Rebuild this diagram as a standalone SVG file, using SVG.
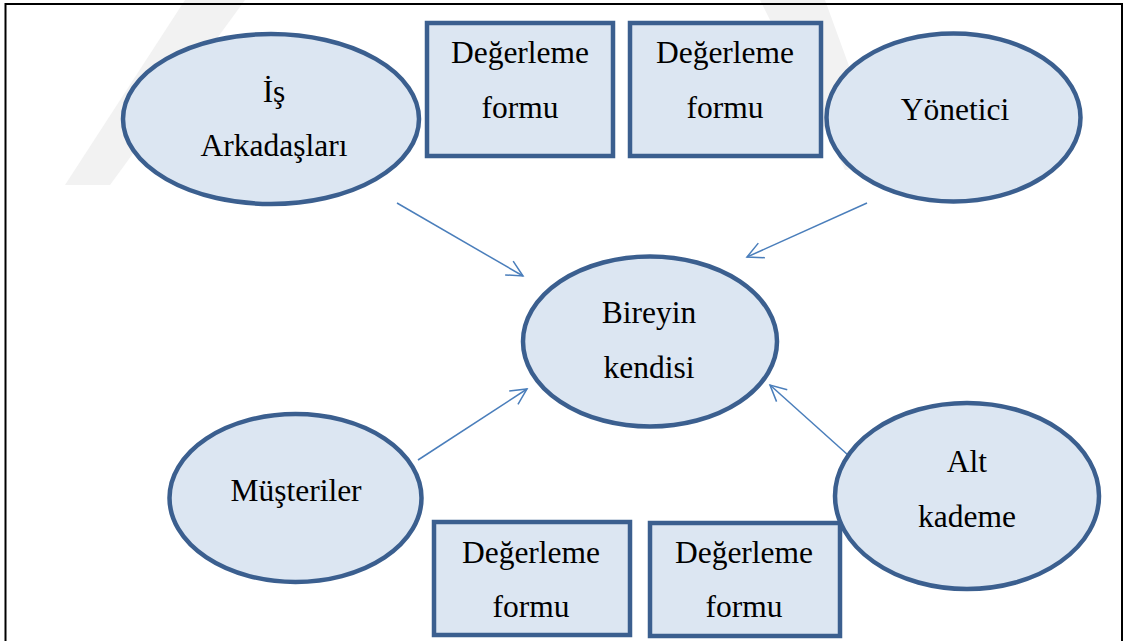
<svg xmlns="http://www.w3.org/2000/svg" width="1129" height="641" viewBox="0 0 1129 641">
<style>
.shape{fill:#dce6f2;stroke:#3b5f8f;stroke-width:4.5}
.lbl{font-family:"Liberation Serif","Times New Roman",serif;font-size:31.5px;fill:#000;text-anchor:middle}
.conn{stroke:#4a7ebb;stroke-width:1.5;fill:none}
.wm{fill:#f2f2f2}
</style>
<defs>
<marker id="arr" viewBox="0 0 20 20" refX="18" refY="10" markerWidth="20" markerHeight="20" markerUnits="userSpaceOnUse" orient="auto">
<path d="M2,2 L18,10 L2,18" fill="none" stroke="#4a7ebb" stroke-width="1.5"/>
</marker>
</defs>
<rect width="1129" height="641" fill="#fff"/>
<g id="watermark">
<polygon class="wm" points="65,185 110,185 245,0 185,0"/>
<polygon class="wm" points="760,0 825,0 885,165 845,170"/>
</g>
<path d="M5.5,641 V4 H1122 V641" fill="none" stroke="#000" stroke-width="2"/>
<g id="connectors">
<line class="conn" x1="397" y1="203" x2="523" y2="276" marker-end="url(#arr)"/>
<line class="conn" x1="867" y1="203" x2="747" y2="257" marker-end="url(#arr)"/>
<line class="conn" x1="418" y1="460" x2="527" y2="389" marker-end="url(#arr)"/>
<line class="conn" x1="848" y1="455" x2="770" y2="385" marker-end="url(#arr)"/>
</g>
<g id="is-arkadaslari">
<ellipse class="shape" cx="271" cy="119" rx="148" ry="85"/>
<text class="lbl" x="274" y="102">İş</text>
<text class="lbl" x="274" y="156">Arkadaşları</text>
</g>
<g id="form1">
<rect class="shape" x="427" y="23" width="186" height="133"/>
<text class="lbl" x="520" y="63">Değerleme</text>
<text class="lbl" x="520" y="118">formu</text>
</g>
<g id="form2">
<rect class="shape" x="630" y="23" width="191" height="133"/>
<text class="lbl" x="725" y="63">Değerleme</text>
<text class="lbl" x="725" y="118">formu</text>
</g>
<g id="yonetici">
<ellipse class="shape" cx="953.5" cy="117.5" rx="127" ry="84"/>
<text class="lbl" x="955" y="120">Yönetici</text>
</g>
<g id="bireyin-kendisi">
<ellipse class="shape" cx="650" cy="341.5" rx="127" ry="85"/>
<text class="lbl" x="649" y="323">Bireyin</text>
<text class="lbl" x="649" y="378">kendisi</text>
</g>
<g id="musteriler">
<ellipse class="shape" cx="295.5" cy="498" rx="126" ry="84"/>
<text class="lbl" x="296" y="501">Müşteriler</text>
</g>
<g id="form3">
<rect class="shape" x="434" y="522" width="196" height="113"/>
<text class="lbl" x="531" y="563">Değerleme</text>
<text class="lbl" x="531" y="617">formu</text>
</g>
<g id="form4">
<rect class="shape" x="650" y="523" width="190" height="113"/>
<text class="lbl" x="744" y="563">Değerleme</text>
<text class="lbl" x="744" y="617">formu</text>
</g>
<g id="alt-kademe">
<ellipse class="shape" cx="967" cy="496" rx="132" ry="93"/>
<text class="lbl" x="967" y="472">Alt</text>
<text class="lbl" x="967" y="527">kademe</text>
</g>
</svg>
